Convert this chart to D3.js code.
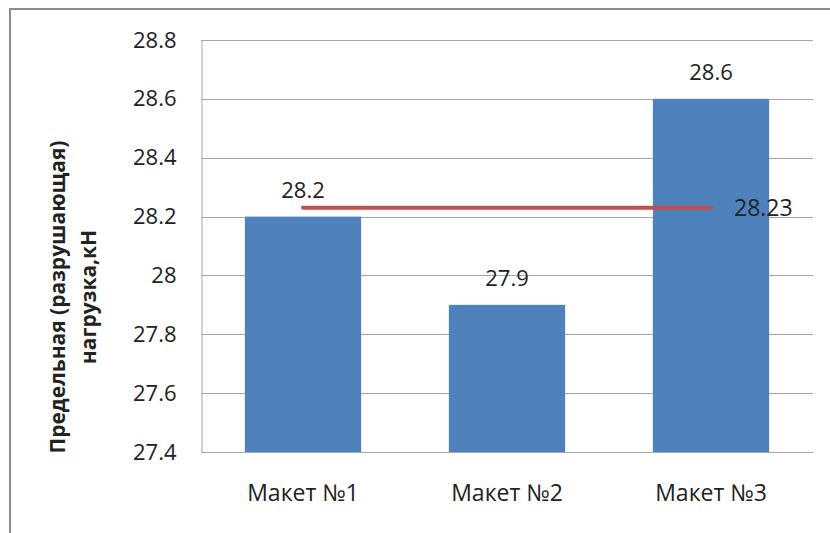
<!DOCTYPE html>
<html>
<head>
<meta charset="utf-8">
<script src="https://cdn.jsdelivr.net/npm/d3@7"></script>
<style>
  html, body { margin: 0; padding: 0; background: #fff; }
  svg { display: block; }
  text { font-family: "Open Sans", "Liberation Sans", sans-serif; fill: #222; }
</style>
</head>
<body>
<div id="chart"></div>
<script>
// Breaking load for each model (kN) and their mean
const categories = ["Макет №1", "Макет №2", "Макет №3"];
const values = [28.2, 27.9, 28.6];
const meanValue = 28.23;
const tickValues = [27.4, 27.6, 27.8, 28, 28.2, 28.4, 28.6, 28.8];
const axisTitle = ["Предельная (разрушающая)", "нагрузка,кН"];

const W = 830, H = 533;
const plot = { left: 201, right: 813, top: 40, bottom: 452 };

const svg = d3.select("#chart").append("svg")
  .attr("width", W).attr("height", H);

// chart frame
svg.append("rect")
  .attr("x", 10).attr("y", 9)
  .attr("width", W + 20).attr("height", H + 20)
  .attr("fill", "#fff").attr("stroke", "#8c8c8c").attr("stroke-width", 2);

const y = d3.scaleLinear().domain([27.4, 28.8]).range([plot.bottom, plot.top]);
const x = d3.scaleBand().domain(categories).range([plot.left, plot.right])
  .paddingInner(0.43).paddingOuter(0.215);
const xc = d3.scaleBand().domain(categories).range([plot.left, plot.right]);

// horizontal gridlines
svg.append("g").selectAll("line").data(tickValues).join("line")
  .attr("x1", plot.left).attr("x2", plot.right)
  .attr("y1", d => Math.round(y(d)) + 0.5).attr("y2", d => Math.round(y(d)) + 0.5)
  .attr("stroke", "#a6a6a6").attr("stroke-width", 1);

// y axis
const yAxis = d3.axisLeft(y).tickValues(tickValues).tickSize(0).tickPadding(25)
  .tickFormat(d => d3.format("")(+d.toFixed(1)));
const gy = svg.append("g").attr("transform", `translate(${plot.left + 0.5},0)`).call(yAxis);
gy.select(".domain").attr("stroke", "#a6a6a6");
gy.selectAll("text").style("font-size", "22px").attr("fill", "#222")
  .style("font-family", "'Open Sans', sans-serif");

// bars
svg.append("g").selectAll("rect").data(values).join("rect")
  .attr("x", (d, i) => x(categories[i]))
  .attr("width", x.bandwidth())
  .attr("y", d => y(d))
  .attr("height", d => plot.bottom - y(d))
  .attr("fill", "#4f81bd");

// x axis labels
const xAxis = d3.axisBottom(xc).tickSize(0).tickPadding(33);
const gx = svg.append("g").attr("transform", `translate(0,${plot.bottom})`).call(xAxis);
gx.select(".domain").remove();
gx.selectAll("text").style("font-size", "23px").attr("fill", "#222")
  .style("font-family", "'Open Sans', sans-serif");

// value labels
svg.append("g").selectAll("text").data(values).join("text")
  .attr("x", (d, i) => xc(categories[i]) + xc.bandwidth() / 2)
  .attr("y", d => y(d) - 19)
  .attr("text-anchor", "middle")
  .style("font-size", "22px")
  .text(d => d3.format(".1f")(d));

// mean line
const xs = [xc(categories[0]) + xc.bandwidth() / 2, xc(categories[2]) + xc.bandwidth() / 2];
svg.append("line")
  .attr("x1", xs[0]).attr("x2", xs[1])
  .attr("y1", y(meanValue)).attr("y2", y(meanValue))
  .attr("stroke", "#c0504d").attr("stroke-width", 4).attr("stroke-linecap", "round");
svg.append("text")
  .attr("x", xs[1] + 23).attr("y", y(meanValue) + 8)
  .style("font-size", "23px")
  .text(d3.format(".2f")(meanValue));

// axis title
const t = svg.append("text")
  .attr("transform", "translate(0,0) rotate(-90)")
  .attr("text-anchor", "middle")
  .style("font-size", "21px").style("font-weight", "bold");
axisTitle.forEach((s, i) => {
  t.append("tspan").attr("x", -297).attr("y", 65 + i * 31).text(s);
});
</script>
</body>
</html>
